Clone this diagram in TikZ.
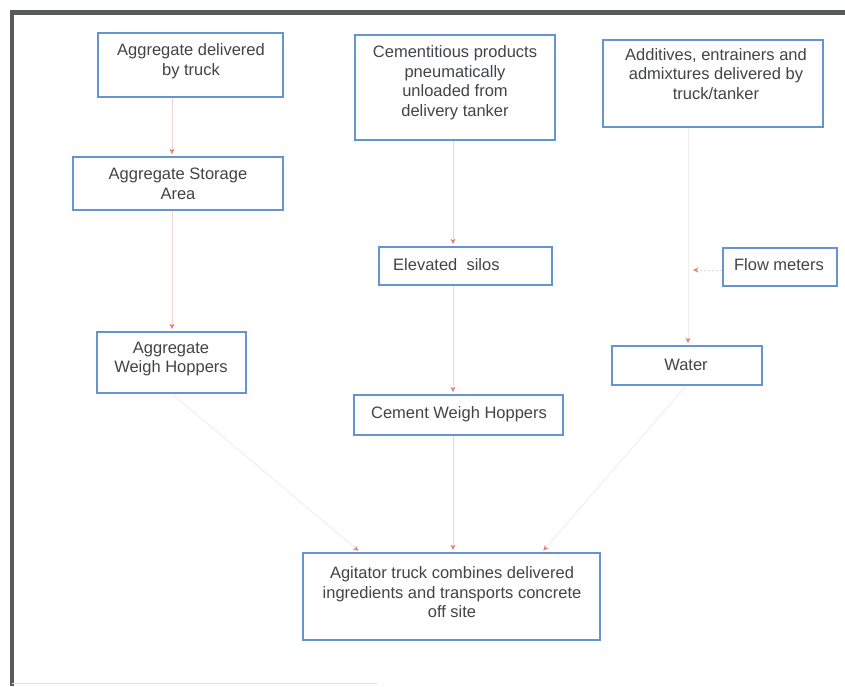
\documentclass[tikz,border=0pt]{standalone}
\usepackage{fontspec}
\setmainfont{Liberation Sans}
\usetikzlibrary{arrows.meta}
\definecolor{boxblue}{RGB}{100,148,210}
\definecolor{txtgray}{RGB}{66,68,72}
\definecolor{linkpink}{RGB}{238,214,214}
\definecolor{linkfaint}{RGB}{244,236,236}
\definecolor{tipred}{RGB}{228,128,100}
\definecolor{framegray}{RGB}{88,90,92}
\tikzset{
  box/.style={draw=boxblue, line width=1.8pt, inner sep=0pt, fill=white},
  txt/.style={text=txtgray, align=center, inner sep=0pt, font=\fontsize{16.5}{19.5}\selectfont},
  link/.style={draw=linkpink, line width=0.9pt, -{Stealth[length=5.5pt,width=5pt,color=tipred]}, shorten >=2pt},
  faintlink/.style={link, draw=linkfaint}
}
\begin{document}
\begin{tikzpicture}[x=1pt,y=-1pt]
\useasboundingbox (0,0) rectangle (845,686);
\fill[white] (0,0) rectangle (845,686);
% frame
\draw[framegray, line width=4.5pt] (12,686) -- (12,12.5) -- (845,12.5);
\draw[gray!22, line width=1pt] (12,683) -- (377,683);

% boxes
\node[box, minimum width=185pt, minimum height=64pt] (agg1) at (190.5,65) {};
\node[txt] (agg1t) at (191,61) {Aggregate delivered\\by truck};

\node[box, minimum width=200pt, minimum height=105pt] (cem) at (455,87.5) {};
\node[txt] (cemt) at (455,82.5) {Cementitious products\\pneumatically\\unloaded from\\delivery tanker};

\node[box, minimum width=220pt, minimum height=87pt] (add) at (713,83.5) {};
\node[txt] (addt) at (716,74) {Additives, entrainers and\\admixtures delivered by\\truck/tanker};

\node[box, minimum width=210pt, minimum height=53pt] (stor) at (178,183.5) {};
\node[txt] (stort) at (178,184) {Aggregate Storage\\Area};

\node[box, minimum width=173pt, minimum height=38pt] (silo) at (465.5,266) {};
\node[txt, anchor=west] (silot) at (393,265) {Elevated\ \ silos};

\node[box, minimum width=114pt, minimum height=38pt] (flow) at (780,267) {};
\node[txt] (flowt) at (779,265) {Flow meters};

\node[box, minimum width=149pt, minimum height=61pt] (awh) at (171.5,362.5) {};
\node[txt] (awht) at (171,359) {Aggregate\\Weigh Hoppers};

\node[box, minimum width=150pt, minimum height=39pt] (water) at (687,365.5) {};
\node[txt] (watert) at (686,364.5) {Water};

\node[box, minimum width=209pt, minimum height=40pt] (cwh) at (458.5,415) {};
\node[txt] (cwht) at (459,414) {Cement Weigh Hoppers};

\node[box, minimum width=297pt, minimum height=87pt] (agit) at (451.5,596.5) {};
\node[txt] (agitt) at (452,592.5) {Agitator truck combines delivered\\ingredients and transports concrete\\off site};

% connector x positions
\coordinate (xa) at (172,0);
\coordinate (xc) at (453,0);
\coordinate (xw) at (688,0);
\coordinate (xl) at (360,0);
\coordinate (xr) at (542,0);
\coordinate (xwb) at (686,0);
\coordinate (fm) at (691,270);

\draw[link] (agg1.south -| xa) -- (stor.north -| xa);
\draw[link] (stor.south -| xa) -- (awh.north -| xa);
\draw[link] (cem.south -| xc) -- (silo.north -| xc);
\draw[link] (silo.south -| xc) -- (cwh.north -| xc);
\draw[link] (cwh.south -| xc) -- (agit.north -| xc);
\draw[faintlink] (awh.south -| xa) -- (agit.north -| xl);
\draw[faintlink] (water.south -| xwb) -- (agit.north -| xr);
\draw[faintlink] (add.south -| xw) -- (water.north -| xw);
\draw[link, dash pattern=on 2pt off 2pt] (flow.west |- fm) -- (fm);
\end{tikzpicture}
\end{document}
